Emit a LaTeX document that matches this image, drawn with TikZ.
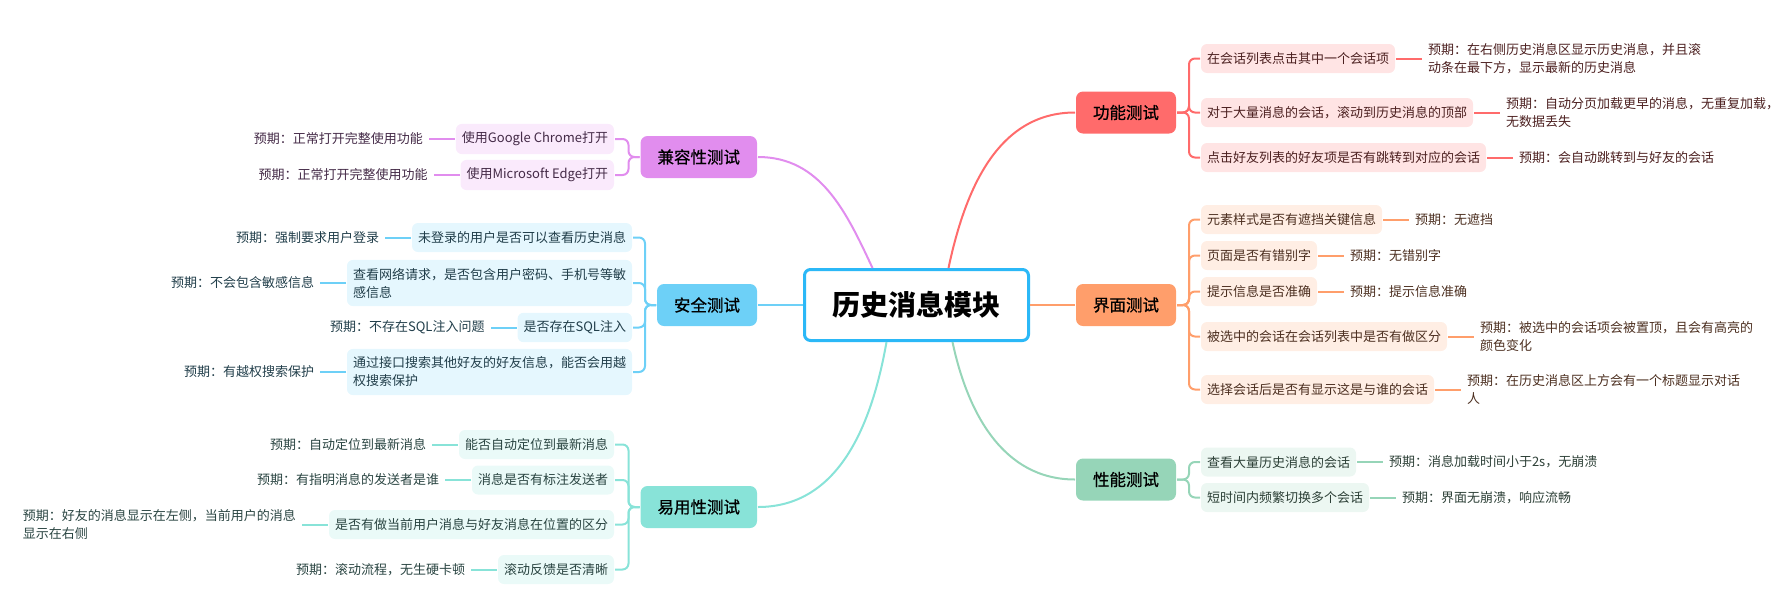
\documentclass[tikz,border=0pt]{standalone}
\usepackage{fontspec}
\setmainfont{Noto Sans CJK SC}
\newfontfamily\branchfont{Noto Sans CJK SC}[FakeBold=0.8]
\usetikzlibrary{positioning}
\definecolor{croot}{HTML}{2BB8F7}
\definecolor{cfun}{HTML}{FF6B6B}
\definecolor{cui}{HTML}{FF9E6B}
\definecolor{cperf}{HTML}{96D5B8}
\definecolor{ccompat}{HTML}{E18DEE}
\definecolor{csec}{HTML}{6DD0F7}
\definecolor{cusab}{HTML}{88E3D8}
\tikzset{
  every picture/.style={line width=2pt},
  rootbox/.style={draw=croot, fill=white, line width=3pt, rounded corners=6pt, minimum width=224pt, minimum height=71pt, font=\fontsize{28}{30}\selectfont\bfseries},
  branch/.style={fill=#1, rounded corners=7pt, minimum height=42pt, inner xsep=17pt, font=\branchfont\fontsize{16.5}{18}\selectfont},
  leaf/.style={fill=#1!18, text=#1!30!black, rounded corners=6pt, minimum height=29pt, inner xsep=6pt, inner ysep=8pt, align=left, font=\fontsize{13}{18}\selectfont},
  expect/.style={text=#1!30!black, inner xsep=5pt, inner ysep=0pt, align=left, font=\fontsize{13}{18}\selectfont},
  link/.style={draw=#1, line width=2pt, rounded corners=6pt},
}

\begin{document}
\begin{tikzpicture}[x=1pt, y=-1pt]
  \useasboundingbox (0,0) rectangle (1789,606);
  \node[rootbox] (root) at (916.5,305) {历史消息模块};
  % branches
  \node[branch=cfun, anchor=west] (fun) at (1075,112.5) {功能测试};
  \node[branch=cui, anchor=west] (ui) at (1075,305) {界面测试};
  \node[branch=cperf, anchor=west] (perf) at (1075,479.5) {性能测试};
  \node[branch=ccompat, anchor=east] (compat) at (758,157) {兼容性测试};
  \node[branch=csec, anchor=east] (sec) at (758,305) {安全测试};
  \node[branch=cusab, anchor=east] (usab) at (758,507) {易用性测试};
  \draw[link=cfun] ([xshift=32pt]root.north) to[out=78, in=180] (fun.west);
  \draw[link=cui] (root.east) -- (ui.west);
  \draw[link=cperf] ([xshift=36pt]root.south) to[out=-78, in=180] (perf.west);
  \draw[link=ccompat] ([xshift=-44pt]root.north) to[out=115, in=0] (compat.east);
  \draw[link=csec] (root.west) -- (sec.west -| sec.east);
  \draw[link=cusab] ([xshift=-30pt]root.south) to[out=-100, in=0] (usab.east);

  % 功能测试
  \node[leaf=cfun, anchor=west] (fun1) at (1200,58.5) {在会话列表点击其中一个会话项};
  \node[leaf=cfun, anchor=west] (fun2) at (1200,112.5) {对于大量消息的会话，滚动到历史消息的顶部};
  \node[leaf=cfun, anchor=west] (fun3) at (1200,157.5) {点击好友列表的好友项是否有跳转到对应的会话};
  \node[expect=cfun, right=26pt of fun1] (fun1e) {预期：在右侧历史消息区显示历史消息，并且滚\\动条在最下方，显示最新的历史消息};
  \node[expect=cfun, right=26pt of fun2] (fun2e) {预期：自动分页加载更早的消息，无重复加载，\\无数据丢失};
  \node[expect=cfun, right=26pt of fun3] (fun3e) {预期：会自动跳转到与好友的会话};
  \foreach \c in {fun1,fun2,fun3} {
    \draw[link=cfun] (\c.west) -| ([xshift=12pt]fun.east) -- (fun.east);
    \draw[link=cfun] (\c.east) -- (\c e.west);
  }

  % 界面测试
  \node[leaf=cui, anchor=west] (ui1) at (1200,219.5) {元素样式是否有遮挡关键信息};
  \node[leaf=cui, anchor=west] (ui2) at (1200,255.5) {页面是否有错别字};
  \node[leaf=cui, anchor=west] (ui3) at (1200,291.5) {提示信息是否准确};
  \node[leaf=cui, anchor=west] (ui4) at (1200,336.5) {被选中的会话在会话列表中是否有做区分};
  \node[leaf=cui, anchor=west] (ui5) at (1200,389.5) {选择会话后是否有显示这是与谁的会话};
  \node[expect=cui, right=26pt of ui1] (ui1e) {预期：无遮挡};
  \node[expect=cui, right=26pt of ui2] (ui2e) {预期：无错别字};
  \node[expect=cui, right=26pt of ui3] (ui3e) {预期：提示信息准确};
  \node[expect=cui, right=26pt of ui4] (ui4e) {预期：被选中的会话项会被置顶，且会有高亮的\\颜色变化};
  \node[expect=cui, right=26pt of ui5] (ui5e) {预期：在历史消息区上方会有一个标题显示对话\\人};
  \foreach \c in {ui1,ui2,ui3,ui4,ui5} {
    \draw[link=cui] (\c.west) -| ([xshift=12pt]ui.east) -- (ui.east);
    \draw[link=cui] (\c.east) -- (\c e.west);
  }

  % 性能测试
  \node[leaf=cperf, anchor=west] (perf1) at (1200,462) {查看大量历史消息的会话};
  \node[leaf=cperf, anchor=west] (perf2) at (1200,497.5) {短时间内频繁切换多个会话};
  \node[expect=cperf, right=26pt of perf1] (perf1e) {预期：消息加载时间小于2s，无崩溃};
  \node[expect=cperf, right=26pt of perf2] (perf2e) {预期：界面无崩溃，响应流畅};
  \foreach \c in {perf1,perf2} {
    \draw[link=cperf] (\c.west) -| ([xshift=12pt]perf.east) -- (perf.east);
    \draw[link=cperf] (\c.east) -- (\c e.west);
  }

  % 兼容性测试
  \node[leaf=ccompat, anchor=east] (compat1) at (615,139) {使用Google Chrome打开};
  \node[leaf=ccompat, anchor=east] (compat2) at (615,175) {使用Microsoft Edge打开};
  \node[expect=ccompat, left=26pt of compat1] (compat1e) {预期：正常打开完整使用功能};
  \node[expect=ccompat, left=26pt of compat2] (compat2e) {预期：正常打开完整使用功能};
  \foreach \c in {compat1,compat2} {
    \draw[link=ccompat] (\c.east) -| ([xshift=-11pt]compat.west) -- (compat.west);
    \draw[link=ccompat] (\c.west) -- (\c e.east);
  }

  % 安全测试
  \node[leaf=csec, anchor=east] (sec1) at (633,237.5) {未登录的用户是否可以查看历史消息};
  \node[leaf=csec, anchor=east] (sec2) at (633,283) {查看网络请求，是否包含用户密码、手机号等敏\\感信息};
  \node[leaf=csec, anchor=east] (sec3) at (633,327.5) {是否存在SQL注入};
  \node[leaf=csec, anchor=east] (sec4) at (633,372) {通过接口搜索其他好友的好友信息，能否会用越\\权搜索保护};
  \node[expect=csec, left=26pt of sec1] (sec1e) {预期：强制要求用户登录};
  \node[expect=csec, left=26pt of sec2] (sec2e) {预期：不会包含敏感信息};
  \node[expect=csec, left=26pt of sec3] (sec3e) {预期：不存在SQL注入问题};
  \node[expect=csec, left=26pt of sec4] (sec4e) {预期：有越权搜索保护};
  \foreach \c in {sec1,sec2,sec3,sec4} {
    \draw[link=csec] (\c.east) -| ([xshift=-11pt]sec.west) -- (sec.west);
    \draw[link=csec] (\c.west) -- (\c e.east);
  }

  % 易用性测试
  \node[leaf=cusab, anchor=east] (usab1) at (615,444.5) {能否自动定位到最新消息};
  \node[leaf=cusab, anchor=east] (usab2) at (615,480) {消息是否有标注发送者};
  \node[leaf=cusab, anchor=east] (usab3) at (615,524.5) {是否有做当前用户消息与好友消息在位置的区分};
  \node[leaf=cusab, anchor=east] (usab4) at (615,569.5) {滚动反馈是否清晰};
  \node[expect=cusab, left=26pt of usab1] (usab1e) {预期：自动定位到最新消息};
  \node[expect=cusab, left=26pt of usab2] (usab2e) {预期：有指明消息的发送者是谁};
  \node[expect=cusab, left=26pt of usab3] (usab3e) {预期：好友的消息显示在左侧，当前用户的消息\\显示在右侧};
  \node[expect=cusab, left=26pt of usab4] (usab4e) {预期：滚动流程，无生硬卡顿};
  \foreach \c in {usab1,usab2,usab3,usab4} {
    \draw[link=cusab] (\c.east) -| ([xshift=-11pt]usab.west) -- (usab.west);
    \draw[link=cusab] (\c.west) -- (\c e.east);
  }
\end{tikzpicture}
\end{document}
